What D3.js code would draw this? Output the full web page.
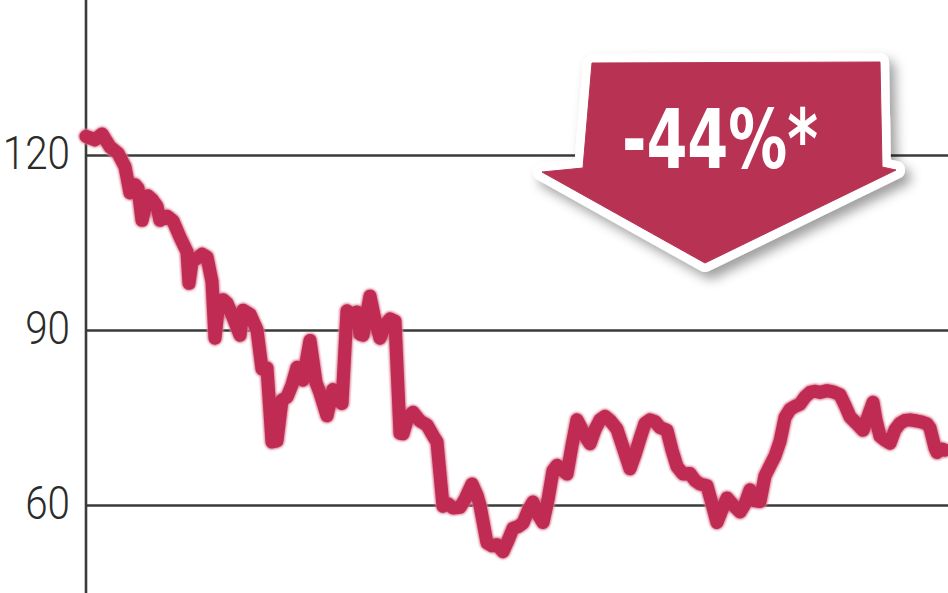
<!DOCTYPE html>
<html>
<head>
<meta charset="utf-8">
<script src="https://cdn.jsdelivr.net/npm/d3@7"></script>
<style>
html,body{margin:0;padding:0;background:#fff;overflow:hidden}
svg{display:block}
</style>
</head>
<body>
<svg id="chart" width="948" height="593"></svg>
<script>
// ---- data ----
const yTicks = [60, 90, 120, 150];
const sessions = [
  0,9,16,24,32,39,44,49,52,56,
  62,66,71,74,81,87,94,101,103,106,
  111,116,121,126,129,132,137,141,147,154,
  157,164,171,176,181,186,191,196,201,206,
  211,217,224,230,234,241,247,252,256,261,
  266,271,274,277,284,289,294,299,304,309,
  314,317,322,327,334,341,347,351,357,362,
  367,374,379,386,391,394,401,406,411,417,
  422,427,432,437,442,447,452,457,462,467,
  471,476,481,486,491,496,501,504,509,514,
  519,524,531,536,541,544,549,554,559,564,
  569,574,581,586,591,597,604,609,614,621,
  626,631,636,641,647,654,659,664,669,674,
  679,684,689,694,699,704,709,714,719,724,
  729,734,741,747,754,759,764,771,777,782,
  787,790,794,799,804,809,814,819,824,831,
  836,841,844,849,851,856,859
];
const values = [
  123.2,122.6,123.6,121.4,120.3,118.0,113.5,114.9,114.3,108.8,
  113.0,112.4,111.2,108.8,109.5,108.7,105.9,103.4,98.0,101.7,
  102.3,103.0,102.5,98.3,88.6,93.4,95.2,94.6,92.2,89.1,
  93.4,92.7,90.0,83.3,83.5,70.8,71.0,78.0,78.5,80.6,
  83.6,81.4,88.2,81.0,79.2,75.3,79.8,78.0,77.4,93.3,
  92.6,93.1,89.3,89.1,95.8,91.7,88.6,90.8,91.9,91.5,
  72.3,72.2,75.1,75.9,74.4,73.7,71.9,70.8,59.8,60.2,
  59.5,59.6,61.0,63.6,61.7,59.9,53.5,53.0,53.2,52.0,
  53.9,56.0,56.3,56.9,59.0,60.5,58.4,57.0,60.9,65.9,
  66.8,66.0,65.3,70.2,74.6,72.9,71.3,70.5,72.9,74.6,
  75.2,74.5,73.0,70.4,67.8,66.2,68.6,71.4,74.0,74.6,
  74.3,73.3,72.8,69.4,66.6,65.3,65.4,64.2,63.6,63.3,
  60.2,57.0,59.2,61.2,60.0,58.8,60.2,62.6,60.7,60.6,
  65.0,66.7,68.4,70.9,75.0,76.4,76.9,77.3,78.5,79.3,
  79.5,79.3,79.6,79.4,78.9,77.1,75.1,73.9,72.8,75.2,
  77.6,74.6,71.8,71.1,70.6,72.9,74.0,74.5,74.6,74.4,
  74.2,73.9,73.2,69.8,69.0,69.6,69.4
];
const changeLabel = "-44%*";

// ---- drawing ----
const W = 948, H = 593;
const svg = d3.select("#chart");
const red = "#bf2b52";
const tickFont = "Roboto,'DejaVu Sans',sans-serif";
const boldFont = "'Liberation Sans Narrow','DejaVu Sans Condensed','Liberation Sans',sans-serif";

const x = d3.scaleLinear().domain([0, 859]).range([86, 945]);
const y = d3.scaleLinear().domain([60, 120]).range([505, 155]);

const defs = svg.append("defs");
const f = defs.append("filter").attr("id", "shadow")
  .attr("x", "-20%").attr("y", "-20%").attr("width", "150%").attr("height", "150%");
f.append("feDropShadow").attr("dx", 6).attr("dy", 7).attr("stdDeviation", 6)
  .attr("flood-color", "#000").attr("flood-opacity", 0.38);
const g = defs.append("filter").attr("id", "halo")
  .attr("x", "-5%").attr("y", "-5%").attr("width", "110%").attr("height", "110%");
g.append("feGaussianBlur").attr("stdDeviation", 0.8);

// gridlines + labels
const axis = d3.axisLeft(y).tickValues(yTicks).tickSize(-(W - 86)).tickPadding(16)
  .tickFormat(d3.format("d"));
const gA = svg.append("g").attr("transform", "translate(86,0)").call(axis);
gA.select(".domain").remove();
gA.selectAll(".tick line").attr("stroke", "#3a3a3a").attr("stroke-width", 2.6);
gA.selectAll(".tick text")
  .attr("fill", "#2b2b2b")
  .attr("font-family", tickFont)
  .attr("font-weight", 300)
  .attr("font-size", 46)
  .attr("dy", "0.3em")
  .attr("textLength", d => String(d).length * 22.4)
  .attr("lengthAdjust", "spacingAndGlyphs");

// vertical axis line
svg.append("line").attr("x1", 86).attr("x2", 86).attr("y1", 0).attr("y2", H)
  .attr("stroke", "#3a3a3a").attr("stroke-width", 2.6);

// price line
const pts = sessions.map((s, i) => [s, values[i]]);
const line = d3.line().x(d => x(d[0])).y(d => y(d[1])).curve(d3.curveLinear);
svg.append("path").datum(pts)
  .attr("d", line)
  .attr("fill", "none")
  .attr("stroke", "#d77990")
  .attr("stroke-width", 15)
  .attr("stroke-linejoin", "round")
  .attr("stroke-linecap", "round")
  .attr("filter", "url(#halo)");
svg.append("path").datum(pts)
  .attr("d", line)
  .attr("fill", "none")
  .attr("stroke", red)
  .attr("stroke-width", 13)
  .attr("stroke-linejoin", "round")
  .attr("stroke-linecap", "round");

// arrow annotation
const arrowShape = [[592,63],[880,62],[882,167],[896,170],[705,263],[542,172],[583,168]];
const arrowPath = "M" + arrowShape.map(p => p.join(",")).join("L") + "Z";
svg.append("path").attr("d", arrowPath)
  .attr("fill", "#fff").attr("stroke", "#fff").attr("stroke-width", 18)
  .attr("stroke-linejoin", "round").attr("filter", "url(#shadow)");
svg.append("path").attr("d", arrowPath)
  .attr("fill", "#b83253").attr("stroke", "#b83253").attr("stroke-width", 1)
  .attr("stroke-linejoin", "round");
svg.append("text")
  .attr("x", 720).attr("y", 168)
  .attr("text-anchor", "middle")
  .attr("font-family", boldFont)
  .attr("font-weight", "bold")
  .attr("font-size", 82)
  .attr("fill", "#fff")
  .attr("textLength", 196)
  .attr("lengthAdjust", "spacingAndGlyphs")
  .text(changeLabel);
</script>
</body>
</html>
